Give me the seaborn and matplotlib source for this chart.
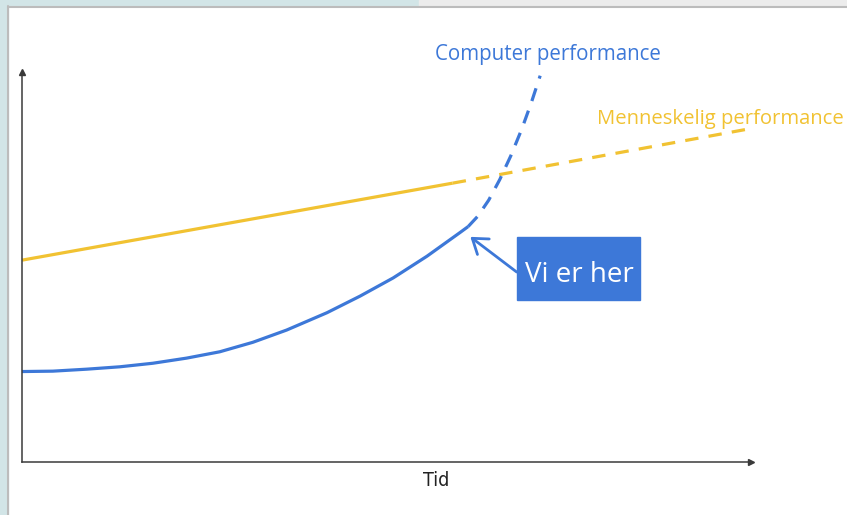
import matplotlib
matplotlib.use("Agg")
import matplotlib.pyplot as plt
from matplotlib.patches import Rectangle
import seaborn as sns
import pandas as pd

# Time axis positions (0-100) and performance levels (0-100)
computer_time_now = [0.0, 4.2, 8.8, 13.3, 17.8, 22.4, 26.9, 31.4, 36.0,
                     41.5, 46.0, 50.5, 55.1, 59.6, 60.7]
computer_perf_now = [22.9, 23.0, 23.5, 24.1, 25.0, 26.3, 27.9, 30.3, 33.4,
                     37.8, 42.0, 46.6, 52.1, 58.1, 59.6]
computer_time_future = [60.7, 62.0, 63.5, 65.0, 66.5, 68.0, 69.3, 70.5]
computer_perf_future = [59.6, 62.2, 66.3, 71.5, 77.5, 84.3, 91.0, 97.8]

human_time_now = [0.0, 58.6]
human_perf_now = [51.1, 70.6]
human_time_future = [58.6, 99.7]
human_perf_future = [70.6, 84.6]

computer_label = "Computer performance"
human_label = "Menneskelig performance"
x_label = "Tid"
marker_label = "Vi er her"

BLUE = "#3d78d8"
YELLOW = "#f1c232"
AXIS = "#3a3a3a"

sns.set_style("white")
plt.rcParams["font.family"] = ["Open Sans", "DejaVu Sans"]

W, H = 847, 515
fig = plt.figure(figsize=(W / 100, H / 100), dpi=100)
fig.patch.set_facecolor("white")

# Page frame around the drawing
fig.patches.extend([
    Rectangle((0, 0), 8 / W, 1, transform=fig.transFigure, color="#d2e5e7", zorder=0),
    Rectangle((0, 1 - 6 / H), 419 / W, 6 / H, transform=fig.transFigure, color="#d2e5e7", zorder=0),
    Rectangle((419 / W, 1 - 6 / H), 1 - 419 / W, 6 / H, transform=fig.transFigure, color="#ececec", zorder=0),
])
fig.lines.extend([
    plt.Line2D([8 / W, 8 / W], [0, 1 - 6 / H], transform=fig.transFigure, color="#bcbcbc", lw=1.5),
    plt.Line2D([8 / W, 1], [1 - 6.5 / H, 1 - 6.5 / H], transform=fig.transFigure, color="#bcbcbc", lw=1.5),
])

ax = fig.add_axes([22 / W, (H - 462) / H, (757 - 22) / W, (462 - 67) / H])
ax.set_facecolor("none")
ax.set_xlim(0, 100)
ax.set_ylim(0, 100)

comp_now = pd.DataFrame({"t": computer_time_now, "p": computer_perf_now})
comp_fut = pd.DataFrame({"t": computer_time_future, "p": computer_perf_future})
hum_now = pd.DataFrame({"t": human_time_now, "p": human_perf_now})
hum_fut = pd.DataFrame({"t": human_time_future, "p": human_perf_future})

lw = 2.3
sns.lineplot(data=hum_now, x="t", y="p", ax=ax, color=YELLOW, lw=lw, sort=False,
             solid_capstyle="butt")
sns.lineplot(data=hum_fut, x="t", y="p", ax=ax, color=YELLOW, lw=lw, sort=False,
             dashes=False, linestyle=(0, (4.2, 3.2)), dash_capstyle="butt")
sns.lineplot(data=comp_now, x="t", y="p", ax=ax, color=BLUE, lw=lw, sort=False,
             solid_capstyle="butt", solid_joinstyle="round")
sns.lineplot(data=comp_fut, x="t", y="p", ax=ax, color=BLUE, lw=lw, sort=False,
             dashes=False, linestyle=(0, (4.2, 3.2)), dash_capstyle="butt")
for line in ax.lines:
    line.set_clip_on(False)

# Axes drawn as arrows
sns.despine(ax=ax)
for side in ("left", "bottom"):
    ax.spines[side].set_color(AXIS)
    ax.spines[side].set_linewidth(1.1)
ax.plot(99.2, 0, marker=">", color=AXIS, ms=5, clip_on=False)
ax.plot(0, 98.8, marker="^", color=AXIS, ms=5, clip_on=False)
ax.spines["bottom"].set_bounds(0, 99.2)
ax.spines["left"].set_bounds(0, 98.8)
ax.set_xticks([])
ax.set_yticks([])
ax.set_xlabel("")
ax.set_ylabel("")

ax.text(56.2, 101.8, computer_label, color=BLUE, fontsize=14.8, ha="left",
        va="baseline", clip_on=False)
ax.text(78.2, 85.6, human_label, color=YELLOW, fontsize=14.6, ha="left",
        va="baseline", clip_on=False)
ax.text(56.3, -4.8, x_label, color="#222222", fontsize=14,
        family="DejaVu Sans", fontstretch="condensed", ha="center", va="center")

# "Vi er her" callout
ax.add_patch(Rectangle((67.3, 41.0), 16.8, 16.0, color=BLUE, zorder=5))
ax.text(75.8, 45.6, marker_label, color="white", fontsize=20, ha="center",
        va="baseline", zorder=6)
ax.annotate("", xy=(61.0, 57.0), xytext=(67.3, 48.1),
            arrowprops=dict(arrowstyle="->,head_length=0.5,head_width=0.35",
                            color=BLUE, lw=2.0, mutation_scale=20,
                            shrinkA=0, shrinkB=0))

fig.savefig("out.png", dpi=100)
